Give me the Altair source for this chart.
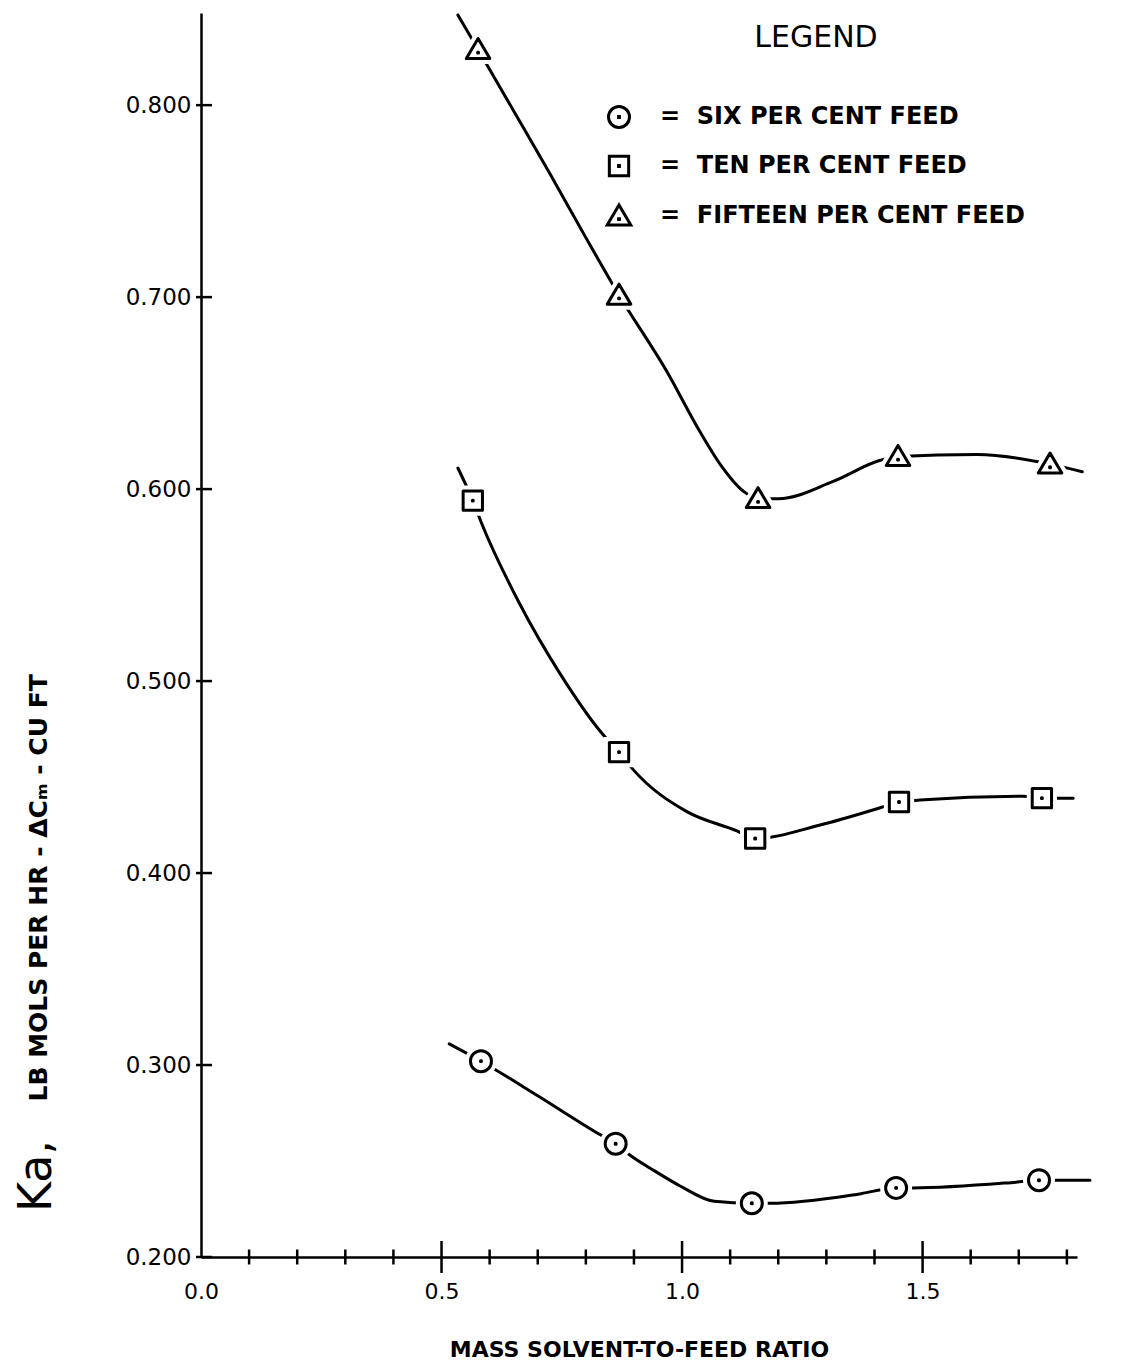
import altair as alt
import pandas as pd

# ---------------- data ----------------
series_names = ["SIX PER CENT FEED", "TEN PER CENT FEED", "FIFTEEN PER CENT FEED"]

six_x = [0.582, 0.862, 1.145, 1.445, 1.742]
six_y = [0.302, 0.259, 0.228, 0.236, 0.240]
ten_x = [0.565, 0.869, 1.152, 1.451, 1.748]
ten_y = [0.594, 0.463, 0.418, 0.437, 0.439]
fifteen_x = [0.576, 0.869, 1.158, 1.449, 1.765]
fifteen_y = [0.829, 0.701, 0.595, 0.617, 0.613]

# hand-drawn smooth curves
six_curve_x = [0.516, 0.582, 0.700, 0.821, 0.862, 0.892, 0.942, 0.996, 1.067,
               1.145, 1.183, 1.372, 1.445, 1.480, 1.694, 1.742, 1.848]
six_curve_y = [0.311, 0.302, 0.284, 0.265, 0.259, 0.253, 0.245, 0.237, 0.229,
               0.228, 0.228, 0.233, 0.236, 0.236, 0.239, 0.240, 0.240]
ten_curve_x = [0.534, 0.565, 0.582, 0.663, 0.746, 0.836, 0.869, 0.898, 1.010,
               1.114, 1.152, 1.287, 1.412, 1.451, 1.495, 1.709, 1.748, 1.813]
ten_curve_y = [0.611, 0.594, 0.583, 0.540, 0.504, 0.472, 0.463, 0.454, 0.432,
               0.422, 0.418, 0.425, 0.434, 0.437, 0.438, 0.440, 0.439, 0.439]
fifteen_curve_x = [0.534, 0.576, 0.650, 0.726, 0.800, 0.869, 0.969, 1.037, 1.079,
                   1.127, 1.158, 1.200, 1.314, 1.412, 1.449, 1.613, 1.765, 1.832]
fifteen_curve_y = [0.847, 0.829, 0.797, 0.764, 0.731, 0.701, 0.661, 0.630, 0.613,
                   0.599, 0.595, 0.595, 0.604, 0.615, 0.617, 0.618, 0.613, 0.609]

x_label_values = [0.0, 0.5, 1.0, 1.5]
x_major_ticks = [0.5, 1.0, 1.5]
x_minor_ticks = [0.1, 0.2, 0.3, 0.4, 0.6, 0.7, 0.8, 0.9, 1.1, 1.2, 1.3, 1.4, 1.6, 1.7, 1.8]
y_tick_values = [0.2, 0.3, 0.4, 0.5, 0.6, 0.7, 0.8]
x_domain = [0.0, 1.821]
y_domain = [0.2, 0.848]
x_title = "MASS SOLVENT-TO-FEED RATIO"
y_title_small = "LB MOLS PER HR - \u0394C\u2098 - CU FT"
y_title_big = ["Ka,"]

FONT = "DejaVu Sans"

# ---------------- tables ----------------
points = pd.DataFrame({
    "x": six_x + ten_x + fifteen_x,
    "y": six_y + ten_y + fifteen_y,
    "series": [series_names[0]] * len(six_x) + [series_names[1]] * len(ten_x)
              + [series_names[2]] * len(fifteen_x),
})
curves = pd.DataFrame({
    "x": six_curve_x + ten_curve_x + fifteen_curve_x,
    "y": six_curve_y + ten_curve_y + fifteen_curve_y,
    "series": [series_names[0]] * len(six_curve_x) + [series_names[1]] * len(ten_curve_x)
              + [series_names[2]] * len(fifteen_curve_x),
})
major_df = pd.DataFrame({"x": x_major_ticks, "y": [y_domain[0]] * len(x_major_ticks)})
minor_df = pd.DataFrame({"x": x_minor_ticks, "y": [y_domain[0]] * len(x_minor_ticks)})
ytick_df = pd.DataFrame({"x": [x_domain[0]] * len(y_tick_values), "y": y_tick_values})
ka_df = pd.DataFrame({"t": y_title_big})

# ---------------- marker shapes (hollow with centre dot) ----------------
dot = "M-0.04,-0.04H0.04V0.04H-0.04Z"
circle_path = "M1,0A1,1 0 1,1 -1,0A1,1 0 1,1 1,0Z " + dot
square_path = "M-0.92,-0.92H0.92V0.92H-0.92Z " + dot
triangle_path = "M0,-1.05L1.12,0.85L-1.12,0.85Z M-0.04,0.26H0.04V0.34H-0.04Z"
shape_range = [circle_path, square_path, triangle_path]

# ---------------- shared encodings ----------------
x_scale = alt.Scale(domain=x_domain, nice=False, zero=False)
y_scale = alt.Scale(domain=y_domain, nice=False, zero=False)

x_axis = alt.Axis(
    values=x_label_values, format=".1f", ticks=False, grid=False,
    domainColor="black", domainWidth=2.5, labelFlush=False,
    labelFont=FONT, labelFontSize=22, labelColor="black", labelPadding=24,
    title=x_title, titleFont=FONT, titleFontSize=22, titleFontWeight="bold",
    titleColor="black", titlePadding=37,
)
y_axis = alt.Axis(
    values=y_tick_values, format=".3f", ticks=False, grid=False,
    domainColor="black", domainWidth=2.5, labelFlush=False,
    labelFont=FONT, labelFontSize=23, labelColor="black", labelPadding=10,
    title=y_title_small, titleFont=FONT, titleFontSize=25, titleFontWeight="bold",
    titleColor="black", titleAngle=270, titleAlign="left", titleBaseline="middle",
    titleX=-163, titleY=1088,
)

X = alt.X("x:Q", scale=x_scale, axis=x_axis)
Y = alt.Y("y:Q", scale=y_scale, axis=y_axis)

# ---------------- layers ----------------
lines = alt.Chart(curves).mark_line(
    interpolate="monotone", color="black", strokeWidth=3, strokeCap="round"
).encode(x=X, y=Y, detail="series:N")

halo = alt.Chart(points).mark_point(
    filled=True, fill="white", stroke="white", strokeWidth=11, opacity=1, size=441
).encode(
    x=X, y=Y,
    shape=alt.Shape("series:N", scale=alt.Scale(domain=series_names, range=shape_range),
                    legend=None),
)

markers = alt.Chart(points).mark_point(
    filled=False, fill="white", stroke="black", strokeWidth=3, opacity=1, size=441,
    strokeJoin="round"
).encode(
    x=X, y=Y,
    shape=alt.Shape(
        "series:N", scale=alt.Scale(domain=series_names, range=shape_range),
        legend=alt.Legend(
            title="LEGEND", orient="none", legendX=406, legendY=10,
            titleFont=FONT, titleFontSize=30, titleFontWeight="normal",
            titleColor="black", titleAnchor="middle", titlePadding=52,
            labelFont=FONT, labelFontSize=24, labelFontWeight="bold",
            labelColor="black", labelExpr="'=\u00a0\u00a0' + datum.label",
            labelLimit=700, labelOffset=29,
            symbolSize=441, symbolStrokeWidth=3, symbolOpacity=1,
            rowPadding=16, padding=0,
        ),
    ),
)

minor_ticks = alt.Chart(minor_df).mark_tick(
    orient="vertical", size=15, thickness=2.5, color="black", opacity=1
).encode(x=X, y=Y)
major_ticks = alt.Chart(major_df).mark_tick(
    orient="vertical", size=32, thickness=2.5, color="black", opacity=1
).encode(x=X, y=Y)
y_ticks = alt.Chart(ytick_df).mark_tick(
    orient="horizontal", size=16, thickness=2.5, color="black", opacity=1, xOffset=3
).encode(x=X, y=Y)

ka_text = alt.Chart(ka_df).mark_text(
    angle=270, align="left", baseline="middle", font=FONT, fontSize=46,
    color="black"
).encode(text="t:N", x=alt.value(-164), y=alt.value(1199))

chart = alt.layer(
    lines, halo, markers, minor_ticks, major_ticks, y_ticks, ka_text
).resolve_scale(shape="independent").properties(
    width=876, height=1244,
    padding={"left": 6, "top": 0, "right": 5, "bottom": 5},
    background="white",
).configure_view(stroke=None)

chart.save("out.html", embed_options={"renderer": "svg", "actions": False})
